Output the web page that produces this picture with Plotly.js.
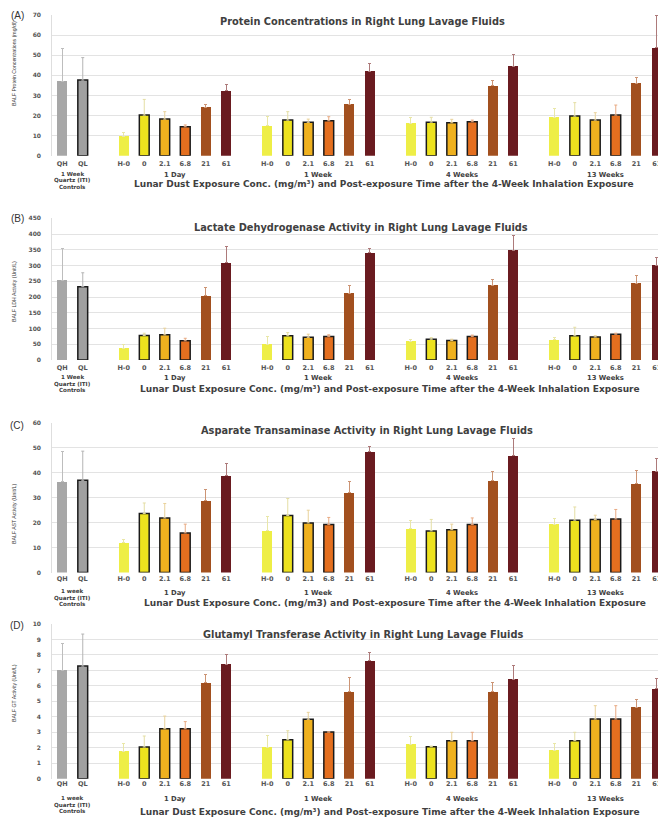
<!DOCTYPE html>
<html><head><meta charset="utf-8">
<script src="https://cdn.plot.ly/plotly-3.0.1.min.js"></script>
<style>html,body{margin:0;padding:0;background:#fff;overflow:hidden}#chart{width:658px;height:817px}</style>
</head><body><div id="chart"></div>
<script>
// ---------- DATA ----------
const controlLabels = ["QH", "QL"];
const concLabels = ["H-0", "0", "2.1", "6.8", "21", "61"];
const timeLabels = ["1 Day", "1 Week", "4 Weeks", "13 Weeks"];

// (A) Protein (mg/dl)
const proteinCtrl = [37.1, 37.6];
const proteinCtrlErr = [16.3, 11.2];
const proteinMean = [
  [9.8, 20.2, 18.2, 14.4, 24.0, 32.3],
  [14.9, 17.7, 16.6, 17.4, 25.5, 42.1],
  [16.1, 16.7, 16.4, 16.9, 34.8, 44.6],
  [19.1, 19.7, 17.7, 20.2, 36.0, 53.7]
];
const proteinErr = [
  [1.8, 7.8, 3.7, 0.9, 1.7, 2.9],
  [4.5, 4.2, 1.6, 2.0, 2.5, 3.8],
  [3.0, 2.4, 1.7, 0.8, 2.8, 5.8],
  [4.4, 6.7, 3.7, 5.0, 3.0, 16.3]
];

// (B) LDH (Unit/L)
const ldhCtrl = [254, 233];
const ldhCtrlErr = [100, 44];
const ldhMean = [
  [38, 78, 80, 61, 204, 309],
  [50, 77, 72, 75, 212, 340],
  [59, 66, 62, 75, 238, 348],
  [64, 77, 73, 82, 243, 301]
];
const ldhErr = [
  [12, 7, 21, 8, 26, 50],
  [25, 10, 10, 5, 24, 14],
  [7, 5, 4, 4, 18, 48],
  [8, 27, 4, 3, 26, 26]
];

// (C) AST (Unit/L)
const astCtrl = [36.4, 37.0];
const astCtrlErr = [12.0, 11.7];
const astMean = [
  [12.0, 23.7, 21.9, 15.9, 28.7, 38.9],
  [16.7, 22.9, 19.9, 19.3, 32.1, 48.4],
  [17.6, 16.7, 17.2, 19.3, 36.8, 46.8],
  [19.3, 21.0, 21.3, 21.5, 35.7, 40.6]
];
const astErr = [
  [1.2, 4.2, 5.8, 3.5, 4.6, 4.8],
  [5.9, 6.8, 5.1, 2.8, 4.3, 2.0],
  [3.4, 4.6, 2.2, 2.6, 3.6, 6.9],
  [2.4, 5.3, 1.7, 3.8, 5.3, 5.0]
];

// (D) GT (Unit/L)
const gtCtrl = [7.0, 7.28];
const gtCtrlErr = [1.75, 2.07];
const gtMean = [
  [1.79, 2.05, 3.23, 3.23, 6.21, 7.41],
  [2.03, 2.52, 3.84, 3.02, 5.63, 7.61],
  [2.24, 2.07, 2.46, 2.46, 5.63, 6.42],
  [1.85, 2.46, 3.86, 3.86, 4.61, 5.80]
];
const gtErr = [
  [0.49, 0.71, 0.82, 0.46, 0.54, 0.59],
  [0.77, 0.58, 0.45, 0.00, 0.90, 0.56],
  [0.48, 0.04, 0.54, 0.54, 0.58, 0.93],
  [0.43, 0.54, 0.86, 0.86, 0.54, 0.70]
];

const panelLetters = ["(A)", "(B)", "(C)", "(D)"];
const panelTitles = [
  "Protein Concentrations in Right Lung Lavage Fluids",
  "Lactate Dehydrogenase Activity in Right Lung Lavage Fluids",
  "Asparate Transaminase Activity in Right Lung Lavage Fluids",
  "Glutamyl Transferase Activity in Right Lung Lavage Fluids"
];
const yTitles = [
  "BALF Protein Concentrations (mg/dl)",
  "BALF LDH Activity (Unit/L)",
  "BALF AST Activity (Unit/L)",
  "BALF GT Activity (Unit/L)"
];
const xTitles = [
  "Lunar Dust Exposure Conc. (mg/m³) and Post-exposure Time after the 4-Week Inhalation Exposure",
  "Lunar Dust Exposure Conc. (mg/m³) and Post-exposure Time after the 4-Week Inhalation Exposure",
  "Lunar Dust Exposure Conc. (mg/m3) and Post-exposure Time after the 4-Week Inhalation Exposure",
  "Lunar Dust Exposure Conc. (mg/m³) and Post-exposure Time after the 4-Week Inhalation Exposure"
];
const controlText = [
  ["1 Week", "Quartz (ITI)", "Controls"],
  ["1 Week", "Quartz (ITI)", "Controls"],
  ["1 week", "Quartz (ITI)", "Controls"],
  ["1 week", "Quartz (ITI)", "Controls"]
];

// ---------- STYLE / LAYOUT ----------
const W = 658, H = 817;
const fx = px => px / W;
const fy = px => 1 - px / H;

const panels = [
  {ctrl: proteinCtrl, ctrlErr: proteinCtrlErr, mean: proteinMean, err: proteinErr},
  {ctrl: ldhCtrl, ctrlErr: ldhCtrlErr, mean: ldhMean, err: ldhErr},
  {ctrl: astCtrl, ctrlErr: astCtrlErr, mean: astMean, err: astErr},
  {ctrl: gtCtrl, ctrlErr: gtCtrlErr, mean: gtMean, err: gtErr}
];
const geo = [
  {top: 15, bottom: 155.7, range: [0, 70], dtick: 10, tso: 3, ctrlY: [174, 180.5, 187], grpY: 174.5, xtY: 184, xtX: 384, titleY: 21, titleX: 362, ytY: 64, labY: 15},
  {top: 218.3, bottom: 360, range: [0, 450], dtick: 50, tso: 2, ctrlY: [377, 383.5, 390], grpY: 377.5, xtY: 389, xtX: 390, titleY: 227, titleX: 361, ytY: 292, labY: 218},
  {top: 423, bottom: 572.5, range: [0, 60], dtick: 10, tso: 1, ctrlY: [591, 597.5, 604], grpY: 593, xtY: 603, xtX: 395, titleY: 430, titleX: 367, ytY: 514, labY: 425},
  {top: 624, bottom: 778.7, range: [0, 10], dtick: 1, tso: 1.5, ctrlY: [798, 804.5, 811], grpY: 799, xtY: 811.5, xtX: 390, titleY: 634, titleX: 363, ytY: 693, labY: 625}
];

const fillCol = {"QH": "#a7a7a7", "QL": "#a0a0a0", "H-0": "#eeee46", "0": "#ede21e", "2.1": "#efb11f", "6.8": "#e46f1f", "21": "#a2501f", "61": "#6a1b20"};
const errCol = {"QH": "#bdbdbd", "QL": "#b5b5b5", "H-0": "#e9e7a8", "0": "#e4dea4", "2.1": "#e9d29a", "6.8": "#e8aa82", "21": "#cc9474", "61": "#ad7a7a"};
const bordered = {"QL": true, "0": true, "2.1": true, "6.8": true};

const BAR_W = 0.48;
const tickFont = {family: "DejaVu Sans", size: 6.5, color: "#555555", weight: 700};
const yTickFont = {family: "DejaVu Sans", size: 6, color: "#555555", weight: 700};
const boldFont = (s) => ({family: "DejaVu Sans", size: s, color: "#404040", weight: 700});

const tickVals = [0, 1];
const tickText = controlLabels.slice();
timeLabels.forEach((t, g) => concLabels.forEach((c, i) => { tickVals.push(3 + g * 7 + i); tickText.push(c); }));

const traces = [];
const layout = {
  width: W, height: H,
  margin: {l: 0, r: 0, t: 0, b: 0},
  paper_bgcolor: "#ffffff", plot_bgcolor: "#ffffff",
  showlegend: false, bargap: 0,
  annotations: []
};

function barTrace(name, xs, ys, es, axN) {
  return {
    type: "bar", name: name, x: xs, y: ys, width: BAR_W,
    xaxis: "x" + (axN === 1 ? "" : axN), yaxis: "y" + (axN === 1 ? "" : axN),
    marker: {color: fillCol[name], line: {color: "#1a1a1a", width: bordered[name] ? 1.5 : 0}},
    error_y: {type: "data", symmetric: false, array: es, arrayminus: es.map(() => 0), color: errCol[name], thickness: 1, width: 1.5},
    hoverinfo: "x+y"
  };
}

panels.forEach((p, k) => {
  const n = k + 1, G = geo[k];
  const xa = "xaxis" + (n === 1 ? "" : n), ya = "yaxis" + (n === 1 ? "" : n);
  const xr = "x" + (n === 1 ? "" : n), yr = "y" + (n === 1 ? "" : n);
  controlLabels.forEach((c, i) => traces.push(barTrace(c, [i], [p.ctrl[i]], [p.ctrlErr[i]], n)));
  concLabels.forEach((c, i) => {
    traces.push(barTrace(c,
      timeLabels.map((t, g) => 3 + g * 7 + i),
      p.mean.map(r => r[i]),
      p.err.map(r => r[i]), n));
  });
  layout[xa] = {
    domain: [fx(52), 1], range: [-0.5, 29.06], anchor: yr,
    tickmode: "array", tickvals: tickVals, ticktext: tickText,
    showgrid: false, zeroline: false, showline: false, ticks: "",
    tickfont: tickFont, tickangle: 0, ticklabelstandoff: G.tso, ticklabeloverflow: "allow",
    fixedrange: true
  };
  layout[ya] = {
    domain: [fy(G.bottom), fy(G.top)], range: G.range, dtick: G.dtick, anchor: xr,
    showgrid: true, gridcolor: "#dcdcdc", gridwidth: 0.8, zeroline: false,
    showline: true, linecolor: "#d6d6d6", linewidth: 0.8, ticks: "",
    tickfont: yTickFont, ticklabelstandoff: 9, fixedrange: true
  };
  const A = layout.annotations;
  A.push({xref: "paper", yref: "paper", x: fx(17), y: fy(G.labY), text: panelLetters[k], showarrow: false,
    font: {family: "Liberation Sans", size: 10, color: "#333333"}, xanchor: "center", yanchor: "middle"});
  A.push({xref: "paper", yref: "paper", x: fx(G.titleX), y: fy(G.titleY), text: panelTitles[k], showarrow: false,
    font: boldFont(9.8), xanchor: "center", yanchor: "middle"});
  A.push({xref: "paper", yref: "paper", x: fx(14), y: fy(G.ytY), text: yTitles[k], showarrow: false, textangle: -90,
    font: {family: "Liberation Sans Narrow, Liberation Sans", size: 5.2, color: "#333333"}, xanchor: "center", yanchor: "middle"});
  controlText[k].forEach((line, j) => A.push({xref: xr, yref: "paper", x: 0.5, y: fy(G.ctrlY[j]), text: line, showarrow: false,
    font: boldFont(5.6), xanchor: "center", yanchor: "middle"}));
  timeLabels.forEach((t, g) => A.push({xref: xr, yref: "paper", x: 3 + g * 7 + 2.5, y: fy(G.grpY), text: t, showarrow: false,
    font: boldFont(6.8), xanchor: "center", yanchor: "middle"}));
  A.push({xref: "paper", yref: "paper", x: fx(G.xtX), y: fy(G.xtY), text: xTitles[k], showarrow: false,
    font: boldFont(9.0), xanchor: "center", yanchor: "middle"});
});

Plotly.newPlot("chart", traces, layout, {displayModeBar: false, staticPlot: true});
</script>
</body></html>
